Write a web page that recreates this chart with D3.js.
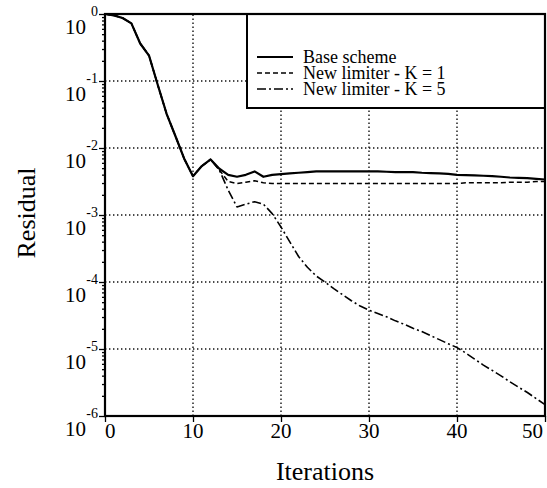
<!DOCTYPE html>
<html>
<head>
<meta charset="utf-8">
<script src="https://cdn.jsdelivr.net/npm/d3@7"></script>
<style>
  html, body { margin: 0; padding: 0; background: #fff; }
  svg { display: block; font-family: "Liberation Serif", "Times New Roman", serif; }
</style>
</head>
<body>
<svg id="chart" width="547" height="488"></svg>
<script>
// ---------- data ----------
const iterations = d3.range(0, 51); // 0..50

const baseScheme = [
  1.0, 0.955, 0.871, 0.724, 0.363, 0.240, 0.0871, 0.0324, 0.0151, 0.00692,
  0.00380, 0.00537, 0.00676, 0.00490, 0.00398, 0.00372, 0.00398, 0.00447, 0.00372, 0.00398,
  0.00407, 0.00417, 0.00427, 0.00437, 0.00447, 0.00447, 0.00447, 0.00447, 0.00447, 0.00447,
  0.00447, 0.00447, 0.00442, 0.00437, 0.00437, 0.00437, 0.00427, 0.00422, 0.00417, 0.00412,
  0.00398, 0.00394, 0.00389, 0.00385, 0.00380, 0.00372, 0.00363, 0.00359, 0.00355, 0.00347,
  0.00339
];

const limiterK1 = [
  1.0, 0.955, 0.871, 0.724, 0.363, 0.240, 0.0871, 0.0324, 0.0151, 0.00692,
  0.00380, 0.00537, 0.00676, 0.00468, 0.00316, 0.00295, 0.00309, 0.00324, 0.00302, 0.00295,
  0.00295, 0.00295, 0.00295, 0.00295, 0.00295, 0.00295, 0.00295, 0.00295, 0.00295, 0.00295,
  0.00295, 0.00295, 0.00295, 0.00295, 0.00295, 0.00295, 0.00295, 0.00295, 0.00295, 0.00295,
  0.00295, 0.00302, 0.00302, 0.00302, 0.00302, 0.00302, 0.00309, 0.00309, 0.00309, 0.00316,
  0.00316
];

const limiterK5 = [
  1.0, 0.955, 0.871, 0.724, 0.363, 0.240, 0.0871, 0.0324, 0.0151, 0.00692,
  0.00380, 0.00537, 0.00676, 0.00468, 0.00234, 0.00132, 0.00145, 0.00158, 0.00145, 0.00105,
  0.000661, 0.000398, 0.000240, 0.000166, 0.000123, 0.000100, 7.94e-5, 6.46e-5, 5.25e-5, 4.37e-5,
  3.80e-5, 3.39e-5, 3.02e-5, 2.63e-5, 2.34e-5, 2.04e-5, 1.82e-5, 1.58e-5, 1.38e-5, 1.20e-5,
  1.05e-5, 8.71e-6, 7.08e-6, 5.75e-6, 4.79e-6, 3.98e-6, 3.24e-6, 2.69e-6, 2.24e-6, 1.82e-6,
  1.48e-6
];

const seriesNames = ["Base scheme", "New limiter - K = 1", "New limiter - K = 5"];
const xTickValues = [0, 10, 20, 30, 40, 50];
const yTickExponents = [0, -1, -2, -3, -4, -5, -6];
const xGridValues = [10, 20, 30, 40];
const yGridExponents = [-1, -2, -3, -4, -5];

// ---------- layout ----------
const svg = d3.select("#chart");
const L = 105, R = 545, T = 14, B = 416;
const x = d3.scaleLinear().domain([0, 50]).range([L, R]);
const y = d3.scaleLog().domain([1e-6, 1]).range([B, T]);

const styles = [
  { dash: null, width: 2.2 },
  { dash: "5,3", width: 1.5 },
  { dash: "9,3,2,3", width: 1.6 }
];
const seriesData = [baseScheme, limiterK1, limiterK5];

// grid
const grid = svg.append("g").attr("stroke", "#111").attr("stroke-width", 1.4)
  .attr("stroke-dasharray", "1.4,2.6").attr("fill", "none");
grid.selectAll("line.v").data(xGridValues).join("line")
  .attr("x1", d => x(d)).attr("x2", d => x(d)).attr("y1", B).attr("y2", T);
grid.selectAll("line.h").data(yGridExponents).join("line")
  .attr("x1", L).attr("x2", R)
  .attr("y1", d => y(Math.pow(10, d))).attr("y2", d => y(Math.pow(10, d)));

// curves
const line = d3.line().x((d, i) => x(iterations[i])).y(d => y(d));
seriesData.forEach((vals, k) => {
  svg.append("path").datum(vals)
    .attr("d", line)
    .attr("fill", "none").attr("stroke", "#000")
    .attr("stroke-width", styles[k].width)
    .attr("stroke-linejoin", "round")
    .attr("stroke-dasharray", styles[k].dash);
});

// legend box (covers grid)
const lg = svg.append("g");
lg.append("rect").attr("x", 247).attr("y", T).attr("width", R - 247).attr("height", 94)
  .attr("fill", "#fff").attr("stroke", "#000").attr("stroke-width", 2);
seriesNames.forEach((name, k) => {
  const yy = 57 + k * 16;
  lg.append("line").attr("x1", 257).attr("x2", 293).attr("y1", yy).attr("y2", yy)
    .attr("stroke", "#000").attr("stroke-width", styles[k].width)
    .attr("stroke-dasharray", styles[k].dash);
  lg.append("text").attr("x", 303).attr("y", yy + 6)
    .attr("font-size", 18).attr("fill", "#000").text(name);
});

// y axis minor + major ticks
const minorVals = y.ticks().filter(v => {
  const e = Math.log10(v);
  return Math.abs(e - Math.round(e)) > 1e-6;
});
const yMinor = svg.append("g").attr("transform", `translate(${L},0)`)
  .call(d3.axisLeft(y).tickValues(minorVals).tickFormat("").tickSize(3).tickSizeOuter(0));
const yMajor = svg.append("g").attr("transform", `translate(${L},0)`)
  .call(d3.axisLeft(y).tickValues(yTickExponents.map(e => Math.pow(10, e))).tickFormat("").tickSize(6).tickSizeOuter(0));
[yMinor, yMajor].forEach(g => {
  g.selectAll(".domain").remove();
  g.selectAll(".tick line").attr("stroke", "#000").attr("stroke-width", 1.3);
});

// x axis ticks
const xAx = svg.append("g").attr("transform", `translate(0,${B})`)
  .call(d3.axisBottom(x).tickValues(xTickValues).tickFormat("").tickSize(6).tickSizeOuter(0));
xAx.selectAll(".domain").remove();
xAx.selectAll(".tick line").attr("stroke", "#000").attr("stroke-width", 1.3);

// frame
svg.append("rect").attr("x", L).attr("y", T).attr("width", R - L).attr("height", B - T)
  .attr("fill", "none").attr("stroke", "#000").attr("stroke-width", 2.2);

// y tick labels: 10 with superscript exponent
const yl = svg.append("g").attr("fill", "#000");
yTickExponents.forEach(e => {
  const ty = y(Math.pow(10, e));
  yl.append("text").attr("x", 86).attr("y", ty + 20).attr("text-anchor", "end")
    .attr("font-size", 21).text("10");
  yl.append("text").attr("x", 98).attr("y", ty + 2).attr("text-anchor", "end")
    .attr("font-size", 14).text(String(e));
});

// x tick labels
xTickValues.forEach((v, i) => {
  const anchor = i === 0 ? "start" : (i === xTickValues.length - 1 ? "end" : "middle");
  svg.append("text").attr("x", x(v) + (i === 0 ? 0 : (i === xTickValues.length - 1 ? -2 : 0)))
    .attr("y", B + 22).attr("text-anchor", anchor)
    .attr("font-size", 21).attr("fill", "#000").text(String(v));
});

// axis titles
svg.append("text").attr("x", 325).attr("y", 480).attr("text-anchor", "middle")
  .attr("font-size", 26).attr("fill", "#000").text("Iterations");
svg.append("text").attr("transform", "translate(35,213) rotate(-90)")
  .attr("text-anchor", "middle").attr("font-size", 26).attr("fill", "#000").text("Residual");
</script>
</body>
</html>
